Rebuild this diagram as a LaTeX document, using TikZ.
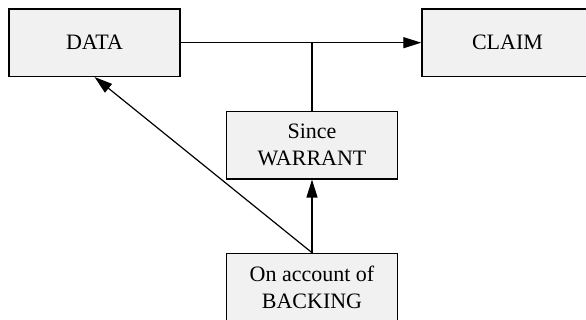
\documentclass[tikz,border=0pt]{standalone}
\usepackage{fontspec}
\setmainfont{Liberation Serif}
\usetikzlibrary{calc}
\usetikzlibrary{arrows.meta}
\definecolor{boxgray}{RGB}{241,241,241}
\newcommand{\argbox}[4]{\node[draw,fill=boxgray,line width=0.7pt,minimum width=85.5pt,minimum height=33.6pt,inner sep=0pt,align=center,font=\fontsize{11}{13.5}\selectfont] (#1) at ( #2 , #3 ) {#4};}

\begin{document}
\begin{tikzpicture}[x=0.5pt,y=0.5pt,>={Triangle[length=9pt,width=5.5pt]},line width=0.6pt]
        \useasboundingbox (0,0) rectangle (586,320);
        % top row
        \argbox{data}{94.5}{277.3}{DATA}
        \argbox{claim}{507.5}{277.3}{CLAIM}
        % middle
        \argbox{warrant}{312}{174.7}{Since\\WARRANT}
        % bottom
        \argbox{backing}{312}{33}{On account of\\BACKING}

        % arrows
        \draw[->] (data.east) -- (claim.west);
        \draw (warrant.north) -- (warrant.north |- data.east);
        \draw[->] (backing.north) -- (warrant.south);
        \draw[->] (backing.north) -- (data.south);
\end{tikzpicture}
\end{document}
